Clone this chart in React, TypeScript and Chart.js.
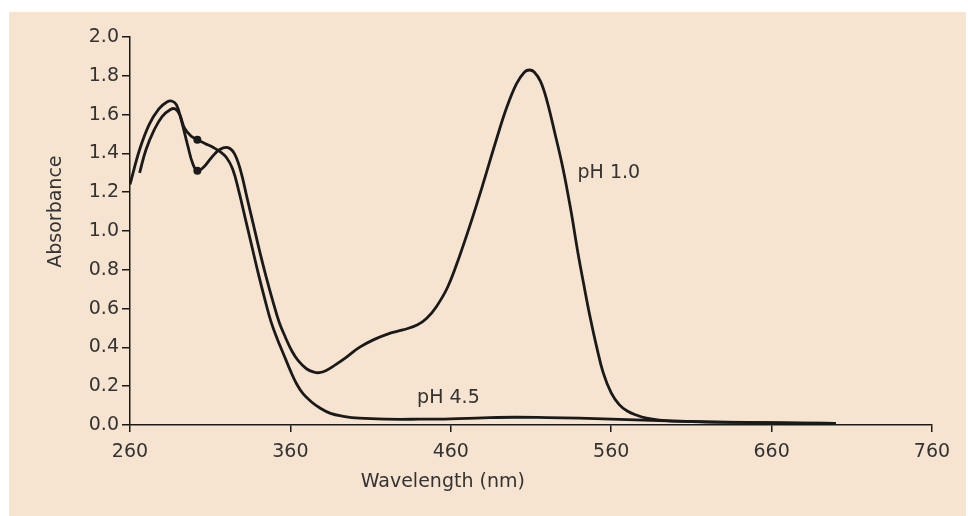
import React, { useEffect, useRef } from 'react';
import { Chart, registerables } from 'chart.js';

Chart.register(...registerables);

// ---- data ----
const wavelengthsPH10 = [260, 266, 272, 278, 283, 286, 289, 292, 296, 299, 302, 306, 311, 316, 321, 325, 329, 333, 337, 341, 345, 349, 353, 357, 361, 365, 370, 375, 378, 382, 388, 395, 403, 412, 421, 430, 439, 445, 451, 458, 465, 472, 480, 488, 495, 501, 506, 509, 512, 516, 520, 525, 530, 535, 539, 543, 547, 551, 555, 560, 565, 570, 576, 582, 590, 600, 620, 650, 680, 700];
const absorbancePH10 = [1.24, 1.42, 1.55, 1.63, 1.665, 1.67, 1.65, 1.57, 1.44, 1.35, 1.31, 1.33, 1.38, 1.42, 1.43, 1.40, 1.31, 1.17, 1.03, 0.89, 0.76, 0.64, 0.53, 0.45, 0.38, 0.33, 0.29, 0.272, 0.27, 0.28, 0.31, 0.35, 0.40, 0.44, 0.47, 0.49, 0.515, 0.55, 0.61, 0.71, 0.86, 1.03, 1.24, 1.46, 1.64, 1.76, 1.82, 1.83, 1.82, 1.77, 1.67, 1.50, 1.32, 1.10, 0.90, 0.72, 0.55, 0.40, 0.27, 0.165, 0.105, 0.072, 0.05, 0.035, 0.025, 0.02, 0.015, 0.012, 0.01, 0.008];

const wavelengthsPH45 = [266, 270, 275, 280, 285, 288, 291, 294, 298, 302, 307, 312, 316, 320, 324, 328, 332, 336, 340, 344, 348, 352, 356, 360, 364, 368, 373, 378, 385, 393, 403, 420, 440, 460, 480, 500, 520, 540, 560, 580, 600, 630, 660, 700];
const absorbancePH45 = [1.30, 1.42, 1.52, 1.59, 1.625, 1.63, 1.60, 1.53, 1.49, 1.47, 1.45, 1.43, 1.41, 1.38, 1.32, 1.20, 1.06, 0.92, 0.78, 0.65, 0.53, 0.44, 0.36, 0.28, 0.21, 0.16, 0.12, 0.09, 0.06, 0.045, 0.035, 0.03, 0.03, 0.032, 0.037, 0.04, 0.038, 0.035, 0.03, 0.025, 0.02, 0.015, 0.012, 0.008];

const markerWavelength = 302;

const curveLabels = ['pH 1.0', 'pH 4.5'];
const curveLabelX = [539, 439];
const curveLabelY = [1.30, 0.14];

const xTitle = 'Wavelength (nm)';
const yTitle = 'Absorbance';
const xMin = 260, xMax = 760, xStep = 100;
const yMin = 0, yMax = 2, yStep = 0.2;

// ---- style ----
const BG = '#f6e4d0';
const INK = '#1a1a1a';
const TEXT = '#333333';
const FONT = '"DejaVu Sans", Verdana, sans-serif';
const FS = 19;

export default function App() {
  const ref = useRef<HTMLCanvasElement>(null);

  useEffect(() => {
    const canvas = ref.current;
    if (!canvas) return;

    const textPlugin = {
      id: 'extraTexts',
      afterDraw(chart: any) {
        const c = chart.ctx;
        const xs = chart.scales.x;
        const ys = chart.scales.y;
        const area = chart.chartArea;
        c.save();
        c.fillStyle = TEXT;
        c.font = `${FS}px ${FONT}`;
        c.textBaseline = 'middle';
        c.textAlign = 'left';
        curveLabels.forEach((t, i) => {
          c.fillText(t, xs.getPixelForValue(curveLabelX[i]), ys.getPixelForValue(curveLabelY[i]));
        });
        c.textAlign = 'center';
        c.fillText(xTitle, xs.getPixelForValue(455), area.bottom + 57);
        c.translate(area.left - 74, ys.getPixelForValue(1.1));
        c.rotate(-Math.PI / 2);
        c.fillText(yTitle, 0, 0);
        c.restore();
      },
    };

    const mk = (wl: number[], ab: number[], label: string) => ({
      label,
      data: wl.map((x, i) => ({ x, y: ab[i] })),
      borderColor: INK,
      backgroundColor: INK,
      borderWidth: 2.8,
      pointRadius: wl.map((x) => (x === markerWavelength ? 4 : 0)),
      pointBackgroundColor: INK,
      pointBorderWidth: 0,
      tension: 0.4,
      fill: false,
    });

    const chart = new Chart(canvas, {
      type: 'line',
      data: {
        datasets: [
          mk(wavelengthsPH10, absorbancePH10, 'pH 1.0'),
          mk(wavelengthsPH45, absorbancePH45, 'pH 4.5'),
        ],
      },
      options: {
        animation: false,
        responsive: false,
        events: [],
        layout: { padding: { top: 25, right: 34, left: 0, bottom: 0 } },
        plugins: { legend: { display: false }, tooltip: { enabled: false } },
        scales: {
          x: {
            type: 'linear',
            min: xMin,
            max: xMax,
            ticks: { stepSize: xStep, color: TEXT, font: { family: FONT, size: FS }, padding: 9, maxRotation: 0 },
            grid: { display: true, drawOnChartArea: false, drawTicks: true, tickLength: 7, color: INK, tickColor: INK, lineWidth: 1.5 },
            border: { display: true, color: INK, width: 1.5 },
            afterFit: (s: any) => { s.height = 91; },
          },
          y: {
            type: 'linear',
            min: yMin,
            max: yMax,
            ticks: { stepSize: yStep, color: TEXT, font: { family: FONT, size: FS }, padding: 3, callback: (v: any) => Number(v).toFixed(1) },
            grid: { display: true, drawOnChartArea: false, drawTicks: true, tickLength: 8, color: INK, tickColor: INK, lineWidth: 1.5 },
            border: { display: true, color: INK, width: 1.5 },
            afterFit: (s: any) => { s.width = 121; },
          },
        },
      },
      plugins: [textPlugin],
    });
    return () => chart.destroy();
  }, []);

  return (
    <div style={{ position: 'absolute', left: 9, top: 12, width: 957, height: 504, background: BG }}>
      <canvas ref={ref} width={957} height={504} style={{ display: 'block' }} />
    </div>
  );
}
